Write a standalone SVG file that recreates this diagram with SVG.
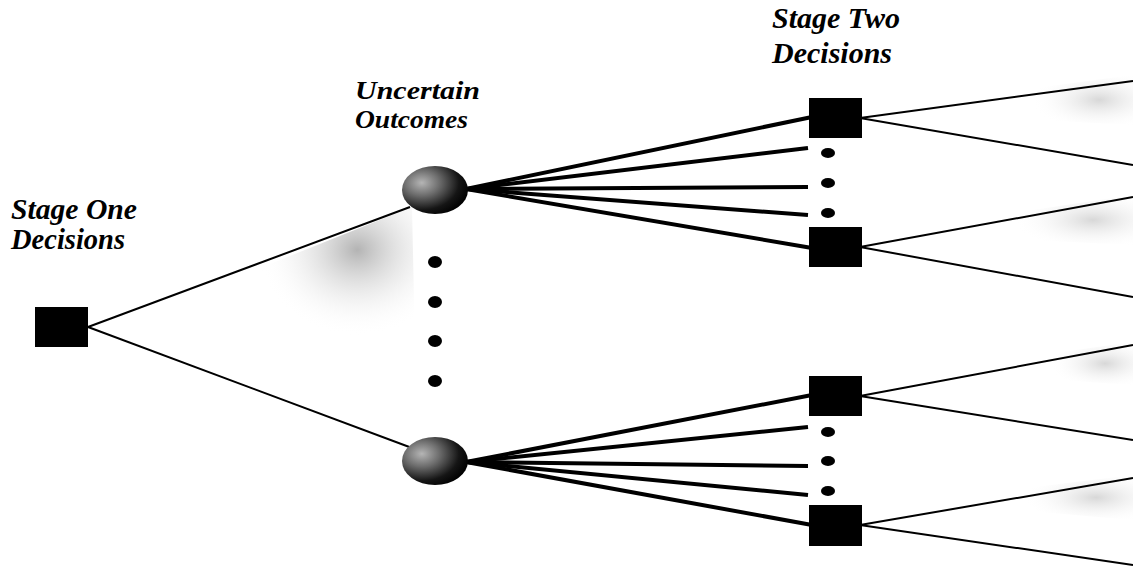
<svg xmlns="http://www.w3.org/2000/svg" width="1133" height="577" viewBox="0 0 1133 577">
<style>
.lbl{font-family:"Liberation Serif","Times New Roman",serif;font-weight:bold;font-style:italic;font-size:29px;fill:#000}
.lbl.sm{font-size:26px}
.thin{stroke:#000;stroke-width:2;fill:none}
.thick{stroke:#000;stroke-width:4;fill:none}
.sq{fill:#000}
.dot{fill:#000}
</style>
<defs>
<radialGradient id="ball" cx="0.3" cy="0.35" r="0.75">
<stop offset="0" stop-color="#b5b5b5"/>
<stop offset="0.35" stop-color="#6e6e6e"/>
<stop offset="0.75" stop-color="#151515"/>
<stop offset="1" stop-color="#000"/>
</radialGradient>
<radialGradient id="haze" cx="0.65" cy="0.3" r="0.6">
<stop offset="0" stop-color="#9a9a9a" stop-opacity="0.75"/>
<stop offset="1" stop-color="#ffffff" stop-opacity="0"/>
</radialGradient>
<radialGradient id="haze2" cx="0.7" cy="0.5" r="0.6">
<stop offset="0" stop-color="#b0b0b0" stop-opacity="0.5"/>
<stop offset="1" stop-color="#ffffff" stop-opacity="0"/>
</radialGradient>
</defs>
<g id="shading">
<polygon points="250,272 412,207 415,345 280,350" fill="url(#haze)"/>
<polygon points="1020,90 1133,75 1133,125 1040,120" fill="url(#haze2)"/>
<polygon points="1000,215 1133,195 1133,245 1030,240" fill="url(#haze2)"/>
<polygon points="1040,355 1133,342 1133,385 1060,380" fill="url(#haze2)"/>
<polygon points="1010,490 1133,475 1133,520 1040,512" fill="url(#haze2)"/>
</g>
<g id="connectors">
<line class="thin" x1="88" y1="327" x2="410" y2="207"/>
<line class="thin" x1="88" y1="327" x2="412" y2="448"/>
<line class="thick" x1="466" y1="189" x2="812" y2="117"/>
<line class="thick" x1="466" y1="189" x2="808" y2="148"/>
<line class="thick" x1="466" y1="189" x2="808" y2="187"/>
<line class="thick" x1="466" y1="189" x2="808" y2="215"/>
<line class="thick" x1="466" y1="189" x2="812" y2="248"/>
<line class="thick" x1="466" y1="462" x2="812" y2="395"/>
<line class="thick" x1="466" y1="462" x2="808" y2="427"/>
<line class="thick" x1="466" y1="462" x2="808" y2="466"/>
<line class="thick" x1="466" y1="462" x2="808" y2="495"/>
<line class="thick" x1="466" y1="462" x2="812" y2="525"/>
<line class="thin" x1="860" y1="118" x2="1133" y2="81"/>
<line class="thin" x1="860" y1="118" x2="1133" y2="165"/>
<line class="thin" x1="860" y1="247" x2="1133" y2="197"/>
<line class="thin" x1="860" y1="247" x2="1133" y2="297"/>
<line class="thin" x1="860" y1="396" x2="1133" y2="345"/>
<line class="thin" x1="860" y1="396" x2="1133" y2="440"/>
<line class="thin" x1="860" y1="525" x2="1133" y2="478"/>
<line class="thin" x1="860" y1="525" x2="1133" y2="565"/>
</g>
<g id="stage-one">
<rect class="sq" x="35" y="307" width="53" height="40"/>
<text class="lbl" x="11" y="219" textLength="126" lengthAdjust="spacingAndGlyphs">Stage One</text>
<text class="lbl" x="11" y="249" textLength="114" lengthAdjust="spacingAndGlyphs">Decisions</text>
</g>
<g id="uncertain-label">
<text class="lbl sm" x="355" y="99" textLength="125" lengthAdjust="spacingAndGlyphs">Uncertain</text>
<text class="lbl sm" x="355" y="128" textLength="113" lengthAdjust="spacingAndGlyphs">Outcomes</text>
</g>
<g id="outcome-top">
<ellipse cx="435" cy="190" rx="33" ry="24" fill="url(#ball)"/>
</g>
<g id="outcome-bottom">
<ellipse cx="435" cy="461" rx="33" ry="24" fill="url(#ball)"/>
</g>
<g id="outcome-dots">
<ellipse class="dot" cx="435" cy="262" rx="7" ry="6"/>
<ellipse class="dot" cx="435" cy="302" rx="7" ry="6"/>
<ellipse class="dot" cx="435" cy="341" rx="7" ry="6"/>
<ellipse class="dot" cx="435" cy="381" rx="7" ry="6"/>
</g>
<g id="stage-two-label">
<text class="lbl" x="772" y="28" textLength="128" lengthAdjust="spacingAndGlyphs">Stage Two</text>
<text class="lbl" x="772" y="63" textLength="120" lengthAdjust="spacingAndGlyphs">Decisions</text>
</g>
<g id="s2-a">
<rect class="sq" x="809" y="98" width="53" height="40"/>
<ellipse class="dot" cx="828" cy="153" rx="7" ry="5"/>
<ellipse class="dot" cx="828" cy="183" rx="7" ry="5"/>
<ellipse class="dot" cx="828" cy="213" rx="7" ry="5"/>
</g>
<g id="s2-b">
<rect class="sq" x="809" y="227" width="53" height="40"/>
</g>
<g id="s2-c">
<rect class="sq" x="809" y="376" width="53" height="40"/>
<ellipse class="dot" cx="828" cy="432" rx="7" ry="5"/>
<ellipse class="dot" cx="828" cy="461" rx="7" ry="5"/>
<ellipse class="dot" cx="828" cy="491" rx="7" ry="5"/>
</g>
<g id="s2-d">
<rect class="sq" x="809" y="505" width="53" height="41"/>
</g>
</svg>
